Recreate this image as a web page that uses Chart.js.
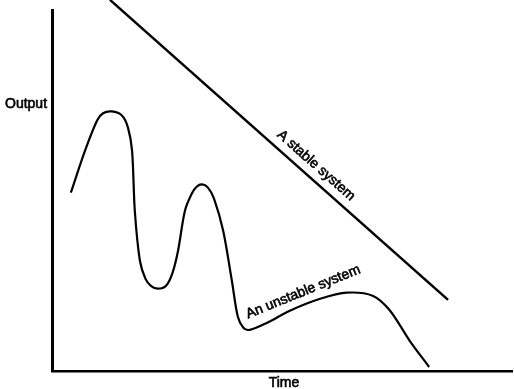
<!DOCTYPE html>
<html>
<head>
<meta charset="utf-8">
<script src="https://cdn.jsdelivr.net/npm/chart.js@4.4.0/dist/chart.umd.min.js"></script>
<style>
  html, body { margin: 0; padding: 0; background: #fff; }
  #wrap { width: 514px; height: 389px; }
</style>
</head>
<body>
<div id="wrap"><canvas id="systems-chart"></canvas></div>
<script>
// values (arbitrary units, 0..100 on both axes)
const stableTime = [12.6, 86.1];
const stableOutput = [102.8, 19.7];

const unstableTime = [4.1, 7.2, 9.8, 11.1, 13.0, 15.2, 16.5, 17.4, 18.0, 19.1, 20.3, 21.5, 23.0, 24.8, 26.2, 27.4, 28.9, 30.4, 31.5, 32.6, 33.9, 35.2, 37.2, 39.1, 40.4, 41.6, 43.0, 46.7, 51.7, 58.3, 64.1, 69.8, 73.5, 77.8, 82.0];
const unstableOutput = [49.4, 61.1, 69.4, 71.4, 71.9, 70.8, 67.5, 61.1, 44.4, 30.6, 25.6, 23.6, 22.8, 23.6, 27.2, 33.3, 44.4, 49.2, 51.1, 51.7, 50.8, 47.8, 38.9, 25.0, 15.0, 12.0, 11.4, 13.3, 16.7, 20.0, 21.7, 20.8, 16.7, 8.3, 1.1];

const labels = [
    { text: 'A stable system', x: 57.4, y: 56.9, angle: 41.5 },
    { text: 'An unstable system', x: 54.6, y: 21.9, angle: -22 }
];

const toPoints = (xs, ys) => xs.map((x, i) => ({ x: x, y: ys[i] }));

function heavyText(ctx, text, x, y) {
    ctx.fillText(text, x, y);
    ctx.strokeText(text, x, y);
}

const textPlugin = {
    id: 'textLabels',
    afterDraw(chart) {
        const ctx = chart.ctx;
        const xs = chart.scales.x;
        const ys = chart.scales.y;
        const area = chart.chartArea;
        ctx.save();
        ctx.fillStyle = '#000';
        ctx.strokeStyle = '#000';
        ctx.lineWidth = 0.6;
        ctx.font = '14px "Liberation Sans", Arial, sans-serif';
        ctx.textBaseline = 'middle';

        labels.forEach(l => {
            ctx.save();
            ctx.translate(xs.getPixelForValue(l.x), ys.getPixelForValue(l.y));
            ctx.rotate(l.angle * Math.PI / 180);
            ctx.textAlign = 'center';
            heavyText(ctx, l.text, 0, 0);
            ctx.restore();
        });

        ctx.textAlign = 'left';
        heavyText(ctx, 'Output', 5, ys.getPixelForValue(74));
        ctx.textAlign = 'center';
        heavyText(ctx, 'Time', (area.left + area.right) / 2 + 2, area.bottom + 12);
        ctx.restore();
    }
};

new Chart(document.getElementById('systems-chart'), {
    type: 'line',
    data: {
        datasets: [
            {
                label: 'A stable system',
                data: toPoints(stableTime, stableOutput),
                borderColor: '#000',
                borderWidth: 2.5,
                pointRadius: 0,
                clip: false
            },
            {
                label: 'An unstable system',
                data: toPoints(unstableTime, unstableOutput),
                borderColor: '#000',
                borderWidth: 2.2,
                pointRadius: 0,
                tension: 0.3,
                clip: false
            }
        ]
    },
    options: {
        responsive: true,
        maintainAspectRatio: false,
        animation: false,
        layout: {
            padding: { left: 44, top: 10, right: 2, bottom: 10 }
        },
        plugins: {
            legend: { display: false },
            tooltip: { enabled: false }
        },
        scales: {
            x: {
                type: 'linear',
                min: 0,
                max: 100,
                ticks: { display: false },
                grid: { display: false },
                border: { display: true, color: '#000', width: 2.5 }
            },
            y: {
                min: 0,
                max: 100,
                ticks: { display: false },
                grid: { display: false },
                border: { display: true, color: '#000', width: 3 }
            }
        }
    },
    plugins: [textPlugin]
});
</script>
</body>
</html>
